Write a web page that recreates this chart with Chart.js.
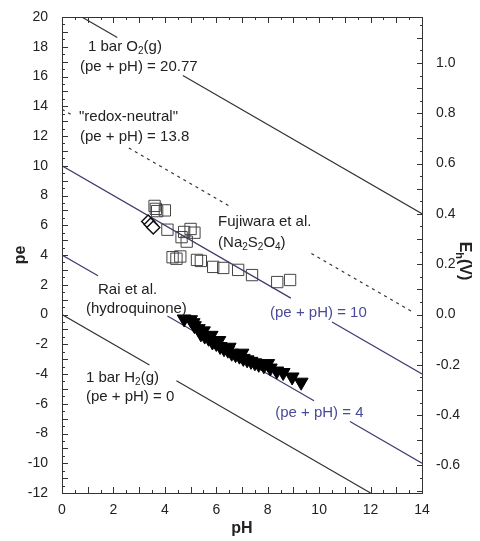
<!DOCTYPE html>
<html>
<head>
<meta charset="utf-8">
<script src="https://cdn.jsdelivr.net/npm/chart.js@4.4.0/dist/chart.umd.min.js"></script>
<style>
  html, body { margin: 0; padding: 0; background: #fff; }
  canvas { display: block; }
</style>
</head>
<body>
<canvas id="c" width="480" height="541" style="width:480px;height:541px"></canvas>
<script>
// Fujiwara et al. (Na2S2O4) - open squares
const fujiwaraPH = [3.6, 3.65, 3.7, 4.0, 4.1, 4.65, 4.75, 4.85, 5.0, 5.15, 4.3, 4.45, 4.6, 5.25, 5.4, 5.88, 6.27, 6.85, 7.39, 8.37, 8.87];
const fujiwaraPe = [7.3, 7.1, 6.95, 7.0, 5.7, 5.2, 5.55, 4.9, 5.75, 5.5, 3.85, 3.75, 3.9, 3.67, 3.6, 3.2, 3.13, 3.0, 2.65, 2.18, 2.32];
// open diamonds near the start of the Fujiwara series
const diamondPH = [3.35, 3.45, 3.55];
const diamondPe = [6.25, 6.05, 5.85];
// Rai et al. (hydroquinone) - filled down triangles
const raiPH = [4.75, 5.0, 5.1, 5.15, 5.3, 5.4, 5.5, 5.55, 5.7, 5.8, 5.85, 6.0, 6.1, 6.15, 6.3, 6.45, 6.5, 6.6, 6.75, 6.9, 7.0, 7.05, 7.2, 7.35, 7.5, 7.65, 7.85, 8.0, 8.1, 8.35, 8.6, 8.95, 9.3];
const raiPe = [-0.3, -0.35, -0.55, -0.75, -0.95, -1.3, -1.1, -1.45, -1.6, -1.4, -1.85, -1.95, -1.75, -2.15, -2.3, -2.4, -2.2, -2.6, -2.7, -2.8, -2.6, -2.95, -3.05, -3.15, -3.25, -3.35, -3.45, -3.3, -3.6, -3.8, -3.9, -4.2, -4.55];

// reference lines (pe + pH = const), null = gap left for a label
const o2PH = [0.77, 2.15, null, 4.7, 14];
const o2Pe = [20, 18.62, null, 16.07, 6.77];
const neutralPH = [0, 0.45, null, 2.6, 6.6, null, 9.7, 13.6];
const neutralPe = [13.8, 13.35, null, 11.2, 7.2, null, 4.1, 0.2];
const tenPH = [0, 8.9, null, 10.5, 14];
const tenPe = [10, 1.1, null, -0.5, -4];
const fourPH = [0, 1.4, null, 4.1, 9.8, null, 11.2, 14];
const fourPe = [4, 2.6, null, -0.1, -5.8, null, -7.2, -10];
const zeroPH = [0, 3.4, null, 4.45, 12];
const zeroPe = [0, -3.4, null, -4.45, -12];

const ehTicks = [-0.6, -0.4, -0.2, 0.0, 0.2, 0.4, 0.6, 0.8, 1.0];
const EH_PER_PE = 0.05916;

function pts(xs, ys) {
  return xs.map((x, i) => (x === null ? { x: NaN, y: null } : { x: x, y: ys[i] }));
}

const FONT = "'Liberation Sans', Arial, Helvetica, sans-serif";
const BLUE = "#4a4a98";
const INK = "#222";

// annotation texts: [parts, pH, pe, align, color]
const notes = [
  [[["1 bar O"], ["2", 1], ["(g)"]], 1.01, 18.0, "left", INK],
  [[["(pe + pH) = 20.77"]], 0.7, 16.64, "left", INK],
  [[["\"redox-neutral\""]], 0.66, 13.28, "left", INK],
  [[["(pe + pH) = 13.8"]], 0.7, 11.93, "left", INK],
  [[["Fujiwara et al."]], 6.07, 6.22, "left", INK],
  [[["(Na"], ["2", 1], ["S"], ["2", 1], ["O"], ["4", 1], [")"]], 6.07, 4.81, "left", INK],
  [[["Rai et al."]], 1.4, 1.65, "left", INK],
  [[["(hydroquinone)"]], 0.93, 0.37, "left", INK],
  [[["(pe + pH) = 10"]], 8.09, 0.14, "left", BLUE],
  [[["1 bar H"], ["2", 1], ["(g)"]], 0.93, -4.27, "left", INK],
  [[["(pe + pH) = 0"]], 0.93, -5.55, "left", INK],
  [[["(pe + pH) = 4"]], 8.29, -6.62, "left", BLUE]
];

function drawParts(ctx, parts, x, y, align, color) {
  const big = "15px " + FONT, small = "10px " + FONT;
  let w = 0;
  parts.forEach(p => { ctx.font = p[1] ? small : big; w += ctx.measureText(p[0]).width; });
  let cx = align === "center" ? x - w / 2 : x;
  ctx.fillStyle = color;
  ctx.textBaseline = "middle";
  ctx.textAlign = "left";
  parts.forEach(p => {
    ctx.font = p[1] ? small : big;
    ctx.fillText(p[0], cx, p[1] ? y + 4 : y);
    cx += ctx.measureText(p[0]).width;
  });
}

const decor = {
  id: "decor",
  afterDatasetsDraw(chart) {
    const ctx = chart.ctx, a = chart.chartArea;
    const xs = chart.scales.x, ys = chart.scales.y, y2 = chart.scales.y2;
    const L = Math.round(a.left), R = Math.round(a.right), T = Math.round(a.top), B = Math.round(a.bottom);
    ctx.save();
    ctx.setLineDash([]);
    ctx.fillStyle = "#333";
    // frame
    ctx.fillRect(L, T, R - L + 1, 1);
    ctx.fillRect(L, B, R - L + 1, 1);
    ctx.fillRect(L, T, 1, B - T + 1);
    ctx.fillRect(R, T, 1, B - T + 1);
    // pH ticks, bottom and top
    for (let i = 0; i <= 28; i++) {
      const px = Math.round(xs.getPixelForValue(i / 2));
      const len = i % 2 === 0 ? 6 : 3;
      ctx.fillRect(px, B - len, 1, len);
      ctx.fillRect(px, T, 1, len);
    }
    // pe ticks, left
    for (let i = 0; i <= 64; i++) {
      const py = Math.round(ys.getPixelForValue(-12 + i / 2));
      const len = i % 2 === 0 ? 6 : 3;
      ctx.fillRect(L, py, len, 1);
    }
    // Eh ticks, right
    for (let i = -14; i <= 23; i++) {
      const py = Math.round(y2.getPixelForValue(i * 0.05));
      const len = i % 2 === 0 ? 6 : 3;
      ctx.fillRect(R - len + 1, py, len, 1);
    }
    ctx.restore();
  },
  afterDraw(chart) {
    const ctx = chart.ctx;
    const xs = chart.scales.x, ys = chart.scales.y;
    ctx.save();
    notes.forEach(n => {
      drawParts(ctx, n[0], xs.getPixelForValue(n[1]), ys.getPixelForValue(n[2]), n[3], n[4]);
    });
    // right axis title Eh(V), rotated clockwise
    ctx.translate(464, (chart.chartArea.top + chart.chartArea.bottom) / 2 + 6);
    ctx.rotate(Math.PI / 2);
    const parts = [["E"], ["h", 1], ["(V)"]];
    ctx.font = "bold 16px " + FONT;
    let w = ctx.measureText("E(V)").width;
    ctx.font = "bold 11px " + FONT;
    w += ctx.measureText("h").width;
    let cx = -w / 2;
    ctx.fillStyle = INK;
    ctx.textBaseline = "middle";
    parts.forEach(p => {
      ctx.font = (p[1] ? "bold 11px " : "bold 16px ") + FONT;
      ctx.fillText(p[0], cx, p[1] ? 5 : 0);
      cx += ctx.measureText(p[0]).width;
    });
    ctx.restore();
  }
};

const lineStyle = (data, color, dash) => ({
  type: "line",
  data: data,
  borderColor: color,
  borderWidth: 1.2,
  borderDash: dash || [],
  pointRadius: 0,
  fill: false,
  spanGaps: false,
  order: 5
});

new Chart(document.getElementById("c"), {
  type: "scatter",
  data: {
    datasets: [
      lineStyle(pts(o2PH, o2Pe), "#333"),
      lineStyle(pts(neutralPH, neutralPe), "#333", [3, 4]),
      lineStyle(pts(tenPH, tenPe), "#3c3c70"),
      lineStyle(pts(fourPH, fourPe), "#3c3c70"),
      lineStyle(pts(zeroPH, zeroPe), "#333"),
      {
        data: pts(fujiwaraPH, fujiwaraPe),
        pointStyle: "rect",
        pointRadius: 8,
        backgroundColor: "rgba(0,0,0,0)",
        borderColor: "#444",
        borderWidth: 1,
        order: 2
      },
      {
        data: pts(diamondPH, diamondPe),
        pointStyle: "rectRot",
        pointRadius: 6.5,
        backgroundColor: "#fff",
        borderColor: "#111",
        borderWidth: 1.5,
        order: 1
      },
      {
        data: pts(raiPH, raiPe),
        pointStyle: "triangle",
        rotation: 180,
        pointRadius: 8,
        backgroundColor: "#000",
        borderColor: "#000",
        borderWidth: 1,
        order: 1
      }
    ]
  },
  options: {
    responsive: false,
    animation: false,
    devicePixelRatio: 1,
    layout: { padding: { top: 17, left: 0, right: 0, bottom: 0 } },
    plugins: { legend: { display: false }, tooltip: { enabled: false } },
    scales: {
      x: {
        type: "linear", position: "bottom", min: 0, max: 14,
        grid: { display: false },
        border: { display: false },
        ticks: { stepSize: 2, color: INK, padding: 1, font: { family: FONT, size: 14 } },
        title: { display: true, text: "pH", color: INK, padding: { top: 0, bottom: 3 }, font: { family: FONT, size: 16, weight: "bold" } },
        afterFit: s => { s.height = 48; }
      },
      y: {
        type: "linear", position: "left", min: -12, max: 20,
        grid: { display: false },
        border: { display: false },
        ticks: { stepSize: 2, color: INK, padding: 6, font: { family: FONT, size: 14 } },
        title: { display: true, text: "pe", color: INK, padding: { top: 11, bottom: 0 }, font: { family: FONT, size: 16, weight: "bold" } },
        afterFit: s => { s.width = 62; }
      },
      y2: {
        type: "linear", position: "right", min: -12 * EH_PER_PE, max: 20 * EH_PER_PE,
        grid: { display: false },
        border: { display: false },
        afterBuildTicks: s => { s.ticks = ehTicks.map(v => ({ value: v })); },
        ticks: { color: INK, padding: 6, font: { family: FONT, size: 14 }, callback: v => Number(v).toFixed(1) },
        afterFit: s => { s.width = 58; }
      }
    }
  },
  plugins: [decor]
});
</script>
</body>
</html>
